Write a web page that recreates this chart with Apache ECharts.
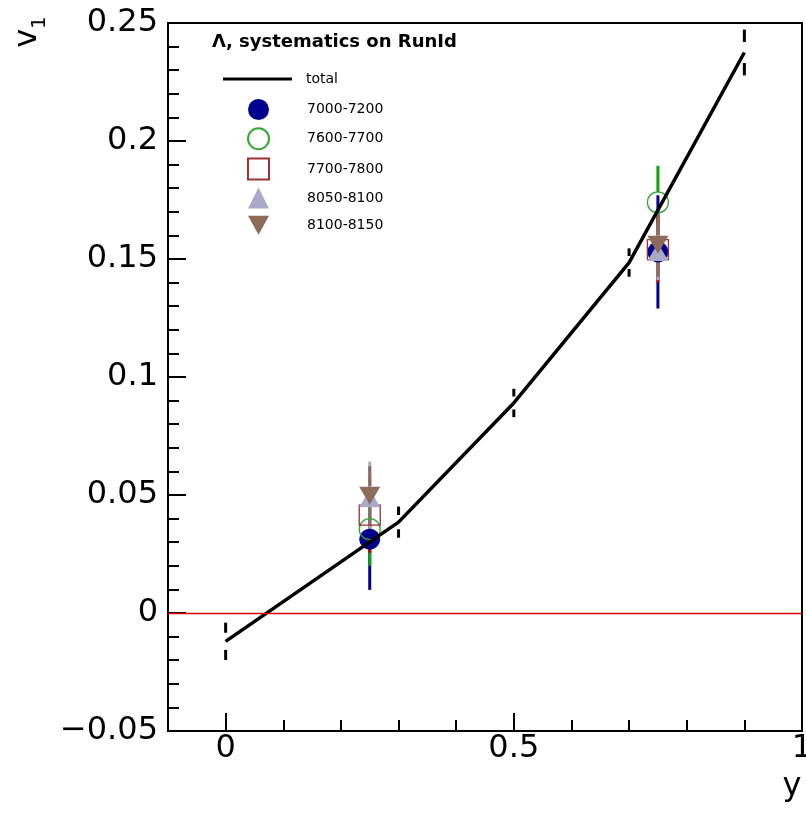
<!DOCTYPE html>
<html>
<head>
<meta charset="utf-8">
<script src="https://cdn.jsdelivr.net/npm/echarts@6/dist/echarts.min.js"></script>
<style>html,body{margin:0;padding:0;background:#fff}#c{width:806px;height:814px}</style>
</head>
<body>
<div id="c"></div>
<script>
// ---- data ----
const totalX = [0, 0.3, 0.5, 0.7, 0.9];
const totalY = [-0.012, 0.0385, 0.089, 0.1485, 0.2375];
const totalSys = [0.0079, 0.0066, 0.006, 0.006, 0.0097];

const pointX = [0.25, 0.75];
const v7000 = [0.0313, 0.153];  const e7000 = [0.0215, 0.024];
const v7600 = [0.0355, 0.174];  const e7600 = [0.0155, 0.0155];
const v7700 = [0.0415, 0.154];  const e7700 = [0.016, 0.014];
const v8050 = [0.0486, 0.153];  const e8050 = [0.0155, 0.012];
const v8100 = [0.0497, 0.156];  const e8100 = [0.0125, 0.0135];

const seriesNames = ['7000-7200', '7600-7700', '7700-7800', '8050-8100', '8100-8150'];

const yTickValues = [-0.05, 0, 0.05, 0.1, 0.15, 0.2, 0.25];
const yTickText = ['\u22120.05', '0', '0.05', '0.1', '0.15', '0.2', '0.25'];
const xTickValues = [0, 0.5, 1];
const xTickText = ['0', '0.5', '1'];
const zeroLineY = 0;

// ---- helpers ----
const FONT = 'DejaVu Sans';
function pts(xs, ys, es) { return xs.map((x, i) => es ? [x, ys[i], es[i]] : [x, ys[i]]); }

function errRender(gap, color) {
  return function (params, api) {
    const x = api.value(0), y = api.value(1), e = api.value(2);
    const c = api.coord([x, y]);
    const t = api.coord([x, y + e]);
    const b = api.coord([x, y - e]);
    const ch = [];
    if (c[1] - gap > t[1]) ch.push({type: 'line', shape: {x1: c[0], y1: t[1], x2: c[0], y2: c[1] - gap}, style: {stroke: color, lineWidth: 3}});
    if (b[1] > c[1] + gap) ch.push({type: 'line', shape: {x1: c[0], y1: c[1] + gap, x2: c[0], y2: b[1]}, style: {stroke: color, lineWidth: 3}});
    return {type: 'group', children: ch};
  };
}
function sysRender(params, api) {
  const x = api.value(0), y = api.value(1), e = api.value(2);
  const t = api.coord([x, y + e]);
  const b = api.coord([x, y - e]);
  const d = (b[1] - t[1]) * 0.27;
  return {type: 'group', children: [
    {type: 'line', shape: {x1: t[0], y1: t[1], x2: t[0], y2: t[1] + d}, style: {stroke: '#000', lineWidth: 3}},
    {type: 'line', shape: {x1: b[0], y1: b[1] - d, x2: b[0], y2: b[1]}, style: {stroke: '#000', lineWidth: 3}}
  ]};
}

const defs = [
  {name: seriesNames[0], v: v7000, e: e7000, bar: '#00008c', symbol: 'circle', size: 21, style: {color: '#00008c', opacity: 1}},
  {name: seriesNames[1], v: v7600, e: e7600, bar: '#10a010', symbol: 'circle', size: 21, style: {color: 'rgba(255,255,255,0)', borderColor: '#33a833', borderWidth: 1.3, opacity: 1}},
  {name: seriesNames[2], v: v7700, e: e7700, bar: '#c80000', symbol: 'rect', size: [21, 20], style: {color: 'rgba(255,255,255,0)', borderColor: '#a03232', borderWidth: 1.3, opacity: 1}},
  {name: seriesNames[3], v: v8050, e: e8050, bar: '#a9a9c9', symbol: 'triangle', size: [21, 18], style: {color: '#a9a9c9', opacity: 1}},
  {name: seriesNames[4], v: v8100, e: e8100, bar: '#8c6b5b', symbol: 'path://M0,0L20,0L10,18Z', size: [21, 18], style: {color: '#8c6b5b', opacity: 1}}
];

const series = [];
defs.forEach(d => {
  series.push({
    type: 'custom', name: d.name + ' err', renderItem: errRender(10, d.bar),
    data: pts(pointX, d.v, d.e), encode: {x: 0, y: 1}, silent: true, z: 2
  });
  series.push({
    type: 'scatter', name: d.name, symbol: d.symbol, symbolSize: d.size,
    itemStyle: d.style, data: pts(pointX, d.v), silent: true, z: 2
  });
});
series.push({
  type: 'custom', name: 'total sys', renderItem: sysRender,
  data: pts(totalX, totalY, totalSys), encode: {x: 0, y: 1}, silent: true, z: 3
});
series.push({
  type: 'line', name: 'total', data: pts(totalX, totalY), symbol: 'none', showSymbol: false,
  lineStyle: {color: '#000', width: 3.5}, itemStyle: {color: '#000'}, z: 4, silent: true,
  markLine: {silent: true, symbol: 'none', label: {show: false}, animation: false,
    lineStyle: {color: '#e00000', width: 1.4, type: 'solid', opacity: 1},
    emphasis: {disabled: true},
    data: [{yAxis: zeroLineY, lineStyle: {color: '#e00000', width: 1.4, type: 'solid', opacity: 1}}]}
});

const chart = echarts.init(document.getElementById('c'), null, {renderer: 'canvas'});
chart.setOption({
  animation: false,
  backgroundColor: '#fff',
  textStyle: {fontFamily: FONT},
  title: {
    text: '\u039b, systematics on RunId', left: 212, top: 33, padding: 0,
    textStyle: {fontFamily: FONT, fontWeight: 'bold', fontSize: 18, color: '#000'}
  },
  legend: [
    {
      data: [{name: 'total', icon: 'rect', itemStyle: {color: '#000'}}], left: 223, top: 72, padding: 0, orient: 'vertical',
      itemWidth: 69, itemHeight: 3,
      textStyle: {fontFamily: FONT, fontSize: 14, color: '#000', padding: [0, 0, 0, 9]},
      selectedMode: false
    },
    {
      data: seriesNames, left: 247, top: 99, padding: 0, orient: 'vertical',
      itemWidth: 21, itemHeight: 21, itemGap: 7.2,
      textStyle: {fontFamily: FONT, fontSize: 14, color: '#000', padding: [0, 0, 0, 33]},
      selectedMode: false
    }
  ],
  grid: {left: 168, right: 4, top: 23, bottom: 83, show: true, borderColor: '#000', borderWidth: 2,
    containLabel: false, outerBoundsMode: 'none'},
  xAxis: [
    {
      type: 'value', min: -0.1, max: 1.0, interval: 0.1, position: 'bottom',
      name: 'y', nameLocation: 'end', nameGap: -10,
      nameTextStyle: {fontFamily: FONT, fontSize: 32, color: '#000', align: 'center', verticalAlign: 'top', padding: [40, 0, 0, 0]},
      axisLine: {show: true, onZero: false, lineStyle: {color: '#000', width: 2}},
      axisTick: {show: true, inside: true, length: 11, lineStyle: {color: '#000', width: 2}},
      axisLabel: {show: true, customValues: xTickValues, margin: 2, fontFamily: FONT, fontSize: 32, color: '#000',
        formatter: v => { const i = xTickValues.findIndex(t => Math.abs(t - v) < 1e-9); return i >= 0 ? xTickText[i] : ''; }},
      splitLine: {show: false}
    },
    {
      type: 'value', min: -0.1, max: 1.0, position: 'bottom',
      axisLine: {show: false, onZero: false},
      axisTick: {show: true, inside: true, length: 18, customValues: xTickValues, lineStyle: {color: '#000', width: 2}},
      axisLabel: {show: false, customValues: xTickValues},
      splitLine: {show: false}
    }
  ],
  yAxis: {
    type: 'value', min: -0.05, max: 0.25, interval: 0.05,
    name: '{v|v}{s|1}', nameLocation: 'end', nameGap: -9, nameRotate: 90,
    nameTextStyle: {fontFamily: FONT, color: '#000', align: 'center', verticalAlign: 'bottom', padding: [0, 0, 124, 0],
      rich: {v: {fontFamily: FONT, fontSize: 32, color: '#000', verticalAlign: 'bottom'},
             s: {fontFamily: FONT, fontSize: 20, color: '#000', verticalAlign: 'bottom', padding: [0, 0, -6, 0]}}},
    axisLine: {show: true, onZero: false, lineStyle: {color: '#000', width: 2}},
    axisTick: {show: true, inside: true, length: 18, lineStyle: {color: '#000', width: 2}},
    minorTick: {show: true, splitNumber: 5, length: 11, lineStyle: {color: '#000', width: 2}},
    axisLabel: {margin: 10, fontFamily: FONT, fontSize: 32, color: '#000',
      formatter: v => { const i = yTickValues.findIndex(t => Math.abs(t - v) < 1e-9); return i >= 0 ? yTickText[i] : ''; }},
    splitLine: {show: false}
  },
  series: series
});
</script>
</body>
</html>
